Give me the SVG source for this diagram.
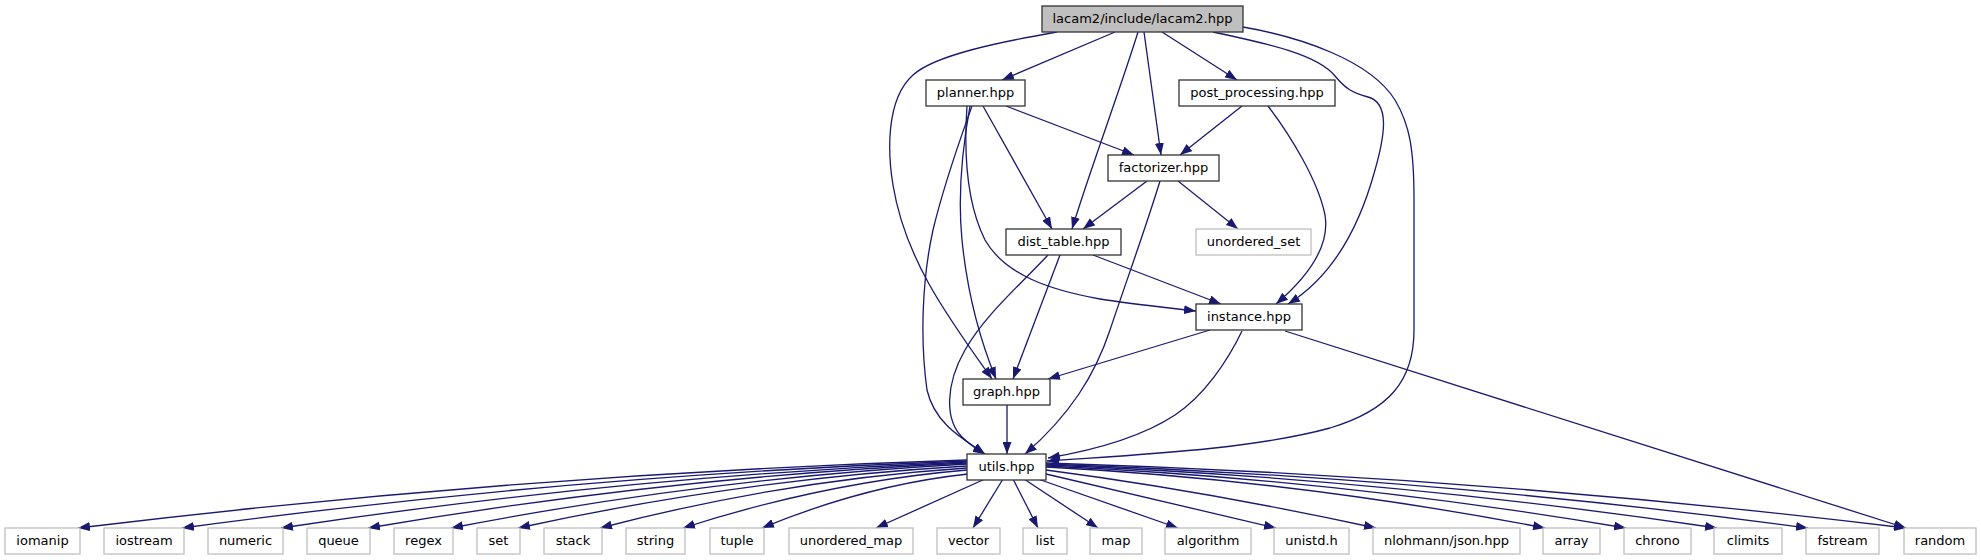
<svg xmlns="http://www.w3.org/2000/svg" width="1981" height="560" viewBox="0 0 1981 560">
<style>
.n rect{fill:#fff;stroke:#333;stroke-width:1.3}
.n.root rect{fill:#bfbfbf}
.n.ext rect{stroke:#bfbfbf}
.n text{font-family:"DejaVu Sans",sans-serif;font-size:13px;fill:#000;text-anchor:middle}
.e path{fill:none;stroke:#191970;stroke-width:1.3;marker-end:url(#a)}
</style>
<defs>
<marker id="a" markerWidth="12" markerHeight="9" refX="12" refY="4.5" orient="auto" markerUnits="userSpaceOnUse" viewBox="0 0 12 9"><path d="M0,0 L12,4.5 L0,9 z" fill="#191970"/></marker>
</defs>
<rect width="1981" height="560" fill="#fff"/>
<g id="edges" class="e">
<path d="M1115,32 L1002,80"/>
<path d="M1057,32 C1000,42 935,55 913,75 C885,100 888,155 893,185 C905,260 950,320 992,379"/>
<path d="M1138,32 C1120,90 1090,170 1072,229"/>
<path d="M1144,32 L1161,155"/>
<path d="M1162,32 L1237,80"/>
<path d="M1213,32 C1270,44 1318,55 1335,76 C1345,88 1352,93 1368,97 C1390,103 1385,135 1375,170 C1360,225 1335,275 1288,304"/>
<path d="M1243,27 C1300,37 1370,60 1395,100 C1410,125 1414,150 1414,200 L1414,330 C1414,380 1390,410 1330,428 C1250,450 1130,455 1047,461"/>
<path d="M1006,106 L1134,155"/>
<path d="M983,106 L1052,229"/>
<path d="M967,106 C964,150 965,200 985,240 C1005,275 1050,290 1100,299 C1130,304 1170,308 1196,311"/>
<path d="M970,106 C962,150 958,200 962,240 C967,290 978,335 996,379"/>
<path d="M972,106 C960,140 945,180 933,230 C922,280 920,340 927,390 C935,425 965,440 985,454"/>
<path d="M1242,106 L1180,155"/>
<path d="M1268,106 C1290,135 1318,180 1325,215 C1330,245 1310,275 1276,304"/>
<path d="M1147,181 L1083,229"/>
<path d="M1178,181 L1238,229"/>
<path d="M1160,181 C1145,230 1125,285 1110,330 C1095,375 1070,415 1025,454"/>
<path d="M1048,255 C1020,285 985,315 965,350 C945,385 945,420 962,437 C970,445 978,450 985,454"/>
<path d="M1060,255 L1013,379"/>
<path d="M1093,255 L1221,304"/>
<path d="M1210,330 L1048,379"/>
<path d="M1242,331 C1228,360 1205,395 1175,415 C1140,438 1095,450 1048,458"/>
<path d="M1285,331 L1906,528"/>
<path d="M1007,405 L1007,454"/>
<path d="M967,460 Q523,474 78,528"/>
<path d="M967,461 Q575,475 182,528"/>
<path d="M967,462 Q625,476 281,528"/>
<path d="M967,463 Q668,477 368,528"/>
<path d="M967,464 Q710,478 451,528"/>
<path d="M967,466 Q743,479 518,528"/>
<path d="M967,468 Q784,480 600,528"/>
<path d="M967,470 Q826,482 683,528"/>
<path d="M968,474 Q866,485 762,528"/>
<path d="M985,479 L876,528"/>
<path d="M1003,479 L973,528"/>
<path d="M1013,479 L1038,528"/>
<path d="M1024,479 L1098,528"/>
<path d="M1038,479 L1178,528"/>
<path d="M1046,474 L1276,528"/>
<path d="M1046,470 Q1200,490 1376,528"/>
<path d="M1046,467 Q1295,480 1545,528"/>
<path d="M1046,466 Q1336,479 1626,528"/>
<path d="M1046,465 Q1381,478 1717,528"/>
<path d="M1046,464 Q1427,477 1808,528"/>
<path d="M1046,463 Q1476,476 1906,528"/>
</g>
<g id="n_lacam2" class="n root"><rect x="1042" y="6" width="201" height="26"/><text x="1142.5" y="23">lacam2/include/lacam2.hpp</text></g>
<g id="n_planner" class="n"><rect x="926" y="80" width="99" height="26"/><text x="975.5" y="97">planner.hpp</text></g>
<g id="n_post_processing" class="n"><rect x="1179" y="80" width="156" height="26"/><text x="1257" y="97">post_processing.hpp</text></g>
<g id="n_factorizer" class="n"><rect x="1108" y="155" width="111" height="26"/><text x="1163.5" y="172">factorizer.hpp</text></g>
<g id="n_dist_table" class="n"><rect x="1006" y="229" width="115" height="26"/><text x="1063.5" y="246">dist_table.hpp</text></g>
<g id="n_unordered_set" class="n ext"><rect x="1196" y="229" width="115" height="26"/><text x="1253.5" y="246">unordered_set</text></g>
<g id="n_instance" class="n"><rect x="1196" y="304" width="106" height="26"/><text x="1249" y="321">instance.hpp</text></g>
<g id="n_graph" class="n"><rect x="963" y="379" width="87" height="26"/><text x="1006.5" y="396">graph.hpp</text></g>
<g id="n_utils" class="n"><rect x="967" y="454" width="79" height="26"/><text x="1006.5" y="471">utils.hpp</text></g>
<g id="n_iomanip" class="n ext"><rect x="5" y="528" width="75" height="26"/><text x="42.5" y="545">iomanip</text></g>
<g id="n_iostream" class="n ext"><rect x="104" y="528" width="80" height="26"/><text x="144" y="545">iostream</text></g>
<g id="n_numeric" class="n ext"><rect x="208" y="528" width="75" height="26"/><text x="245.5" y="545">numeric</text></g>
<g id="n_queue" class="n ext"><rect x="307" y="528" width="63" height="26"/><text x="338.5" y="545">queue</text></g>
<g id="n_regex" class="n ext"><rect x="394" y="528" width="59" height="26"/><text x="423.5" y="545">regex</text></g>
<g id="n_set" class="n ext"><rect x="477" y="528" width="43" height="26"/><text x="498.5" y="545">set</text></g>
<g id="n_stack" class="n ext"><rect x="544" y="528" width="58" height="26"/><text x="573" y="545">stack</text></g>
<g id="n_string" class="n ext"><rect x="626" y="528" width="59" height="26"/><text x="655.5" y="545">string</text></g>
<g id="n_tuple" class="n ext"><rect x="710" y="528" width="54" height="26"/><text x="737" y="545">tuple</text></g>
<g id="n_unordered_map" class="n ext"><rect x="789" y="528" width="124" height="26"/><text x="851" y="545">unordered_map</text></g>
<g id="n_vector" class="n ext"><rect x="937" y="528" width="63" height="26"/><text x="968.5" y="545">vector</text></g>
<g id="n_list" class="n ext"><rect x="1023" y="528" width="44" height="26"/><text x="1045" y="545">list</text></g>
<g id="n_map" class="n ext"><rect x="1090" y="528" width="52" height="26"/><text x="1116" y="545">map</text></g>
<g id="n_algorithm" class="n ext"><rect x="1165" y="528" width="86" height="26"/><text x="1208" y="545">algorithm</text></g>
<g id="n_unistd" class="n ext"><rect x="1274" y="528" width="75" height="26"/><text x="1311.5" y="545">unistd.h</text></g>
<g id="n_json" class="n ext"><rect x="1373" y="528" width="147" height="26"/><text x="1446.5" y="545">nlohmann/json.hpp</text></g>
<g id="n_array" class="n ext"><rect x="1543" y="528" width="57" height="26"/><text x="1571.5" y="545">array</text></g>
<g id="n_chrono" class="n ext"><rect x="1624" y="528" width="67" height="26"/><text x="1657.5" y="545">chrono</text></g>
<g id="n_climits" class="n ext"><rect x="1714" y="528" width="68" height="26"/><text x="1748" y="545">climits</text></g>
<g id="n_fstream" class="n ext"><rect x="1806" y="528" width="73" height="26"/><text x="1842.5" y="545">fstream</text></g>
<g id="n_random" class="n ext"><rect x="1904" y="528" width="72" height="26"/><text x="1940" y="545">random</text></g>
</svg>
